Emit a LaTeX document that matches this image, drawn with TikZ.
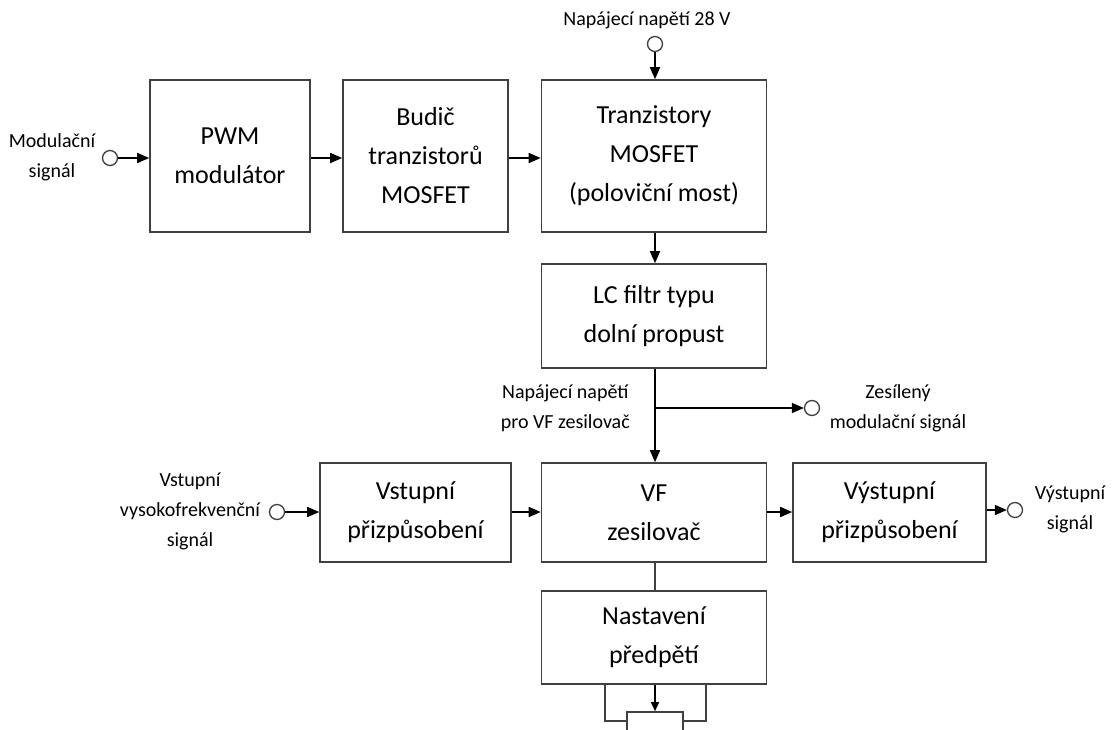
\documentclass[tikz,border=0pt]{standalone}
\usepackage{fontspec}
\setmainfont{Carlito}
\usetikzlibrary{arrows.meta,calc}
\tikzset{
  blk/.style={draw=black!75, line width=1.6pt, rectangle, align=center, inner sep=0pt,
    font=\fontsize{26}{39}\selectfont},
  lbl/.style={align=center, inner sep=0pt, font=\fontsize{20}{30}\selectfont},
  term/.style={draw=black!75, line width=1.3pt, circle, minimum size=15pt, inner sep=0pt, fill=white},
  arr/.style={line width=1.6pt, -{Triangle[length=12pt,width=10pt]}},
  ln/.style={line width=1.6pt, draw=black!75}
}
\begin{document}
\begin{tikzpicture}[x=1pt,y=-1pt]
\useasboundingbox[fill=white] (0,0) rectangle (1116,729);
% top row
\node[blk, minimum width=160pt, minimum height=152pt] (pwm) at (230,156) {PWM\\modulátor};
\node[blk, minimum width=165pt, minimum height=152pt] (bud) at (425.5,156) {Budič\\tranzistorů\\MOSFET};
\node[blk, minimum width=225pt, minimum height=152pt] (tr) at (654,156) {Tranzistory\\MOSFET\\(poloviční most)};
\node[blk, minimum width=225pt, minimum height=104pt] (lc) at (654,316) {LC filtr typu\\dolní propust};
% middle row
\node[blk, minimum width=191pt, minimum height=99pt] (vst) at (415.5,512.5) {Vstupní\\přizpůsobení};
\node[blk, minimum width=225pt, minimum height=99pt] (vf) at (654,512.5) {VF\\zesilovač};
\node[blk, minimum width=193pt, minimum height=99pt] (vys) at (889.5,512.5) {Výstupní\\přizpůsobení};
\node[blk, minimum width=225pt, minimum height=93pt] (nas) at (654,637.5) {Nastavení\\předpětí};
\node[blk, minimum width=56pt, minimum height=40pt] (pot) at (655,732) {};
% terminals
\node[term] (inmod) at (110,158) {};
\node[term] (sup) at (655,44) {};
\node[term] (zes) at (812,408) {};
\node[term] (invf) at (277,512) {};
\node[term] (out) at (1015,510) {};
% labels
\node[lbl] (l1) at (52,157) {Modulační\\signál};
\node[lbl] (l2) at (647,20) {Napájecí napětí 28 V};
\node[lbl, anchor=east] (l3) at (630,408) {Napájecí napětí\\pro VF zesilovač};
\node[lbl] (l4) at (898,408) {Zesílený\\modulační signál};
\node[lbl] (l5) at (190,511) {Vstupní\\vysokofrekvenční\\signál};
\node[lbl] (l6) at (1070,509) {Výstupní\\signál};
% connectors
\draw[arr] (inmod) -- (inmod -| pwm.west);
\draw[arr] (pwm.east |- 0,158) -- (bud.west |- 0,158);
\draw[arr] (bud.east |- 0,158) -- (tr.west |- 0,158);
\draw[arr] (sup) -- (sup |- tr.north);
\draw[arr] (tr.south -| 655,0) -- (lc.north -| 655,0);
\draw[arr] (lc.south -| 655,0) -- (vf.north -| 655,0);
\coordinate (j) at (655,408);
\draw[arr] (j) -- (zes);
\draw[arr] (invf) -- (invf -| vst.west);
\draw[arr] (vst.east |- 0,512) -- (vf.west |- 0,512);
\draw[arr] (vf.east |- 0,512) -- (vys.west |- 0,512);
\draw[arr] (vys.east |- out) -- (out);
\draw[ln] (vf.south -| 655,0) -- (nas.north -| 655,0);
\draw[arr, line width=1.4pt, -{Triangle[length=9pt,width=8pt]}] (nas.south -| 655,0) -- (pot.north);
\draw[ln, line width=1.3pt] (nas.south -| 605,0) |- (pot.west |- 0,721);
\draw[ln, line width=1.3pt] (nas.south -| 706,0) |- (pot.east |- 0,721);
\end{tikzpicture}
\end{document}
